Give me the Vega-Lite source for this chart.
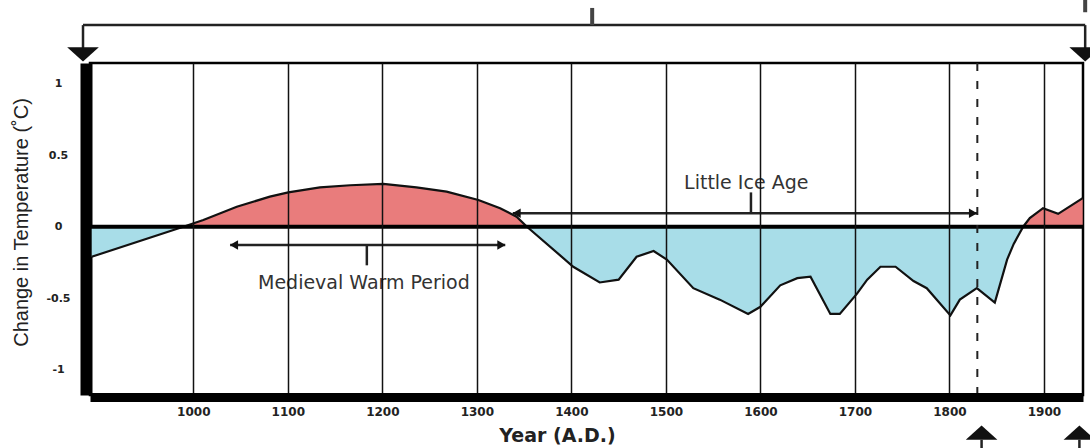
{
  "$schema": "https://vega.github.io/schema/vega-lite/v6.json",
  "width": 993,
  "height": 332,
  "autosize": {"type": "none"},
  "padding": {"left": 90, "top": 63, "right": 7, "bottom": 53},
  "background": "white",
  "config": {
    "view": {"stroke": "black", "strokeWidth": 2.5},
    "font": "DejaVu Sans"
  },
  "datasets": {
    "temp": [
      {"year": 892.5, "value": -0.21},
      {"year": 989.5, "value": 0},
      {"year": 1010.6, "value": 0.047},
      {"year": 1046, "value": 0.14},
      {"year": 1081, "value": 0.21},
      {"year": 1100.5, "value": 0.24},
      {"year": 1134, "value": 0.275},
      {"year": 1166, "value": 0.29},
      {"year": 1201, "value": 0.3},
      {"year": 1236, "value": 0.275},
      {"year": 1268, "value": 0.245},
      {"year": 1301.6, "value": 0.187},
      {"year": 1324.6, "value": 0.129},
      {"year": 1342, "value": 0.07},
      {"year": 1353, "value": 0},
      {"year": 1402, "value": -0.28},
      {"year": 1430, "value": -0.39},
      {"year": 1450, "value": -0.37},
      {"year": 1469, "value": -0.21},
      {"year": 1487, "value": -0.17},
      {"year": 1501, "value": -0.23},
      {"year": 1529, "value": -0.43},
      {"year": 1557, "value": -0.51},
      {"year": 1587, "value": -0.61},
      {"year": 1600, "value": -0.56},
      {"year": 1621, "value": -0.41},
      {"year": 1639, "value": -0.36},
      {"year": 1653, "value": -0.35},
      {"year": 1674, "value": -0.61},
      {"year": 1684, "value": -0.61},
      {"year": 1702, "value": -0.47},
      {"year": 1713, "value": -0.37},
      {"year": 1727, "value": -0.28},
      {"year": 1743, "value": -0.28},
      {"year": 1762, "value": -0.38},
      {"year": 1776, "value": -0.43},
      {"year": 1801, "value": -0.62},
      {"year": 1811, "value": -0.51},
      {"year": 1829, "value": -0.43},
      {"year": 1848, "value": -0.53},
      {"year": 1861, "value": -0.23},
      {"year": 1868, "value": -0.12},
      {"year": 1878, "value": 0},
      {"year": 1885, "value": 0.06},
      {"year": 1899, "value": 0.13},
      {"year": 1915, "value": 0.09},
      {"year": 1941, "value": 0.2}
    ],
    "zero": [
      {"year": 890.7, "value": 0},
      {"year": 1941.3, "value": 0}
    ],
    "thin": [
      {"part": "bracket top", "year": 883.3, "year2": 1943.6, "value": 1.41, "value2": 1.41},
      {"part": "bracket left", "year": 883.3, "year2": 883.3, "value": 1.41, "value2": 1.25},
      {"part": "bracket right", "year": 1943.6, "year2": 1943.6, "value": 1.41, "value2": 1.25},
      {"part": "MWP span", "year": 1039, "year2": 1330, "value": -0.128, "value2": -0.128},
      {"part": "MWP tick", "year": 1183.6, "year2": 1183.6, "value": -0.128, "value2": -0.27},
      {"part": "LIA span", "year": 1338, "year2": 1830, "value": 0.094, "value2": 0.094},
      {"part": "LIA tick", "year": 1590, "year2": 1590, "value": 0.094, "value2": 0.24},
      {"part": "stem 1", "year": 1834, "year2": 1834, "value": -1.49, "value2": -1.6},
      {"part": "stem 2", "year": 1937.5, "year2": 1937.5, "value": -1.49, "value2": -1.6}
    ],
    "thick": [
      {"part": "top tick", "year": 1422, "year2": 1422, "value": 1.41, "value2": 1.53},
      {"part": "corner mark", "year": 1943.6, "year2": 1943.6, "value": 1.5, "value2": 1.6}
    ],
    "dashed": [
      {"year": 1829.5, "year2": 1829.5, "value": 1.145, "value2": -1.177}
    ],
    "bigArrows": [
      {"year": 883.3, "value": 1.205, "dir": "down"},
      {"year": 1943.6, "value": 1.205, "dir": "down"},
      {"year": 1834, "value": -1.44, "dir": "up"},
      {"year": 1937.5, "value": -1.44, "dir": "up"}
    ],
    "smallArrows": [
      {"year": 1043, "value": -0.128, "dir": "left"},
      {"year": 1326, "value": -0.128, "dir": "right"},
      {"year": 1342, "value": 0.094, "dir": "left"},
      {"year": 1825, "value": 0.094, "dir": "right"}
    ],
    "labels": [
      {"label": "Medieval Warm Period", "year": 1180.5, "value": -0.395},
      {"label": "Little Ice Age", "year": 1585, "value": 0.305}
    ]
  },
  "encoding": {
    "x": {
      "field": "year",
      "type": "quantitative",
      "scale": {"domain": [890.7, 1941.3], "nice": false, "zero": false},
      "axis": {
        "title": "Year (A.D.)",
        "values": [1000, 1100, 1200, 1300, 1400, 1500, 1600, 1700, 1800, 1900],
        "format": "d",
        "zindex": 1,
        "grid": true,
        "gridColor": "#111111",
        "gridWidth": 1.5,
        "gridOpacity": 1,
        "ticks": false,
        "tickSize": 0,
        "domain": true,
        "domainColor": "black",
        "domainWidth": 9,
        "offset": 2,
        "labelFont": "DejaVu Sans",
        "labelFontWeight": "bold",
        "labelFontSize": 12,
        "labelColor": "#222222",
        "labelPadding": 9,
        "titleFont": "DejaVu Sans",
        "titleFontWeight": "bold",
        "titleFontSize": 19,
        "titleColor": "#222222",
        "titleX": 467,
        "titleY": 44,
        "titleBaseline": "alphabetic",
        "titleAnchor": "middle"
      }
    },
    "y": {
      "field": "value",
      "type": "quantitative",
      "scale": {"domain": [-1.177, 1.145], "nice": false, "zero": false},
      "axis": {
        "title": "Change in Temperature (˚C)",
        "values": [-1, -0.5, 0, 0.5, 1],
        "labelExpr": "'' + datum.value",
        "grid": false,
        "ticks": false,
        "tickSize": 0,
        "domain": true,
        "domainColor": "black",
        "domainWidth": 12,
        "offset": 4,
        "labelFont": "DejaVu Sans",
        "labelFontWeight": "bold",
        "labelFontSize": 11,
        "labelColor": "#222222",
        "labelAlign": "center",
        "labelBaseline": "middle",
        "labelPadding": 28,
        "titleFont": "Liberation Sans",
        "titleFontWeight": "normal",
        "titleFontSize": 20,
        "titleColor": "#222222",
        "titleAngle": 270,
        "titleBaseline": "middle",
        "titleX": -65,
        "titleY": 159,
        "titleAnchor": "middle"
      }
    }
  },
  "layer": [
    {
      "data": {"name": "temp"},
      "transform": [{"filter": "datum.value >= 0"}],
      "mark": {"type": "area", "color": "#e97c7c", "opacity": 1},
      "encoding": {"y2": {"datum": 0}}
    },
    {
      "data": {"name": "temp"},
      "transform": [{"filter": "datum.value <= 0"}],
      "mark": {"type": "area", "color": "#a8dde8", "opacity": 1},
      "encoding": {"y2": {"datum": 0}}
    },
    {
      "data": {"name": "temp"},
      "mark": {"type": "line", "color": "#111111", "strokeWidth": 2.2},
      "encoding": {}
    },
    {
      "data": {"name": "zero"},
      "mark": {"type": "line", "color": "#000000", "strokeWidth": 4},
      "encoding": {}
    },
    {
      "data": {"name": "dashed"},
      "mark": {"type": "rule", "color": "#222222", "strokeWidth": 2, "strokeDash": [8, 10]},
      "encoding": {"x2": {"field": "year2"}, "y2": {"field": "value2"}}
    },
    {
      "data": {"name": "thin"},
      "mark": {"type": "rule", "color": "#222222", "strokeWidth": 2.5, "clip": false},
      "encoding": {"x2": {"field": "year2"}, "y2": {"field": "value2"}}
    },
    {
      "data": {"name": "thick"},
      "mark": {"type": "rule", "color": "#444444", "strokeWidth": 4, "clip": false},
      "encoding": {"x2": {"field": "year2"}, "y2": {"field": "value2"}}
    },
    {
      "data": {"name": "bigArrows"},
      "mark": {"type": "point", "filled": true, "color": "#111111", "opacity": 1, "size": 1000, "clip": false},
      "encoding": {
        "shape": {
          "field": "dir",
          "type": "nominal",
          "legend": null,
          "scale": {
            "domain": ["down", "up", "left", "right"],
            "range": ["M-1,-0.45L1,-0.45L0,0.45Z", "M-1,0.45L1,0.45L0,-0.45Z", "triangle-left", "triangle-right"]
          }
        }
      }
    },
    {
      "data": {"name": "smallArrows"},
      "mark": {"type": "point", "filled": true, "color": "#111111", "opacity": 1, "size": 90, "clip": false},
      "encoding": {
        "shape": {
          "field": "dir",
          "type": "nominal",
          "legend": null,
          "scale": {
            "domain": ["down", "up", "left", "right"],
            "range": ["M-1,-0.45L1,-0.45L0,0.45Z", "M-1,0.45L1,0.45L0,-0.45Z", "triangle-left", "triangle-right"]
          }
        }
      }
    },
    {
      "data": {"name": "labels"},
      "mark": {"type": "text", "font": "DejaVu Sans", "fontSize": 19, "color": "#333333", "align": "center", "baseline": "middle"},
      "encoding": {"text": {"field": "label"}}
    }
  ]
}
